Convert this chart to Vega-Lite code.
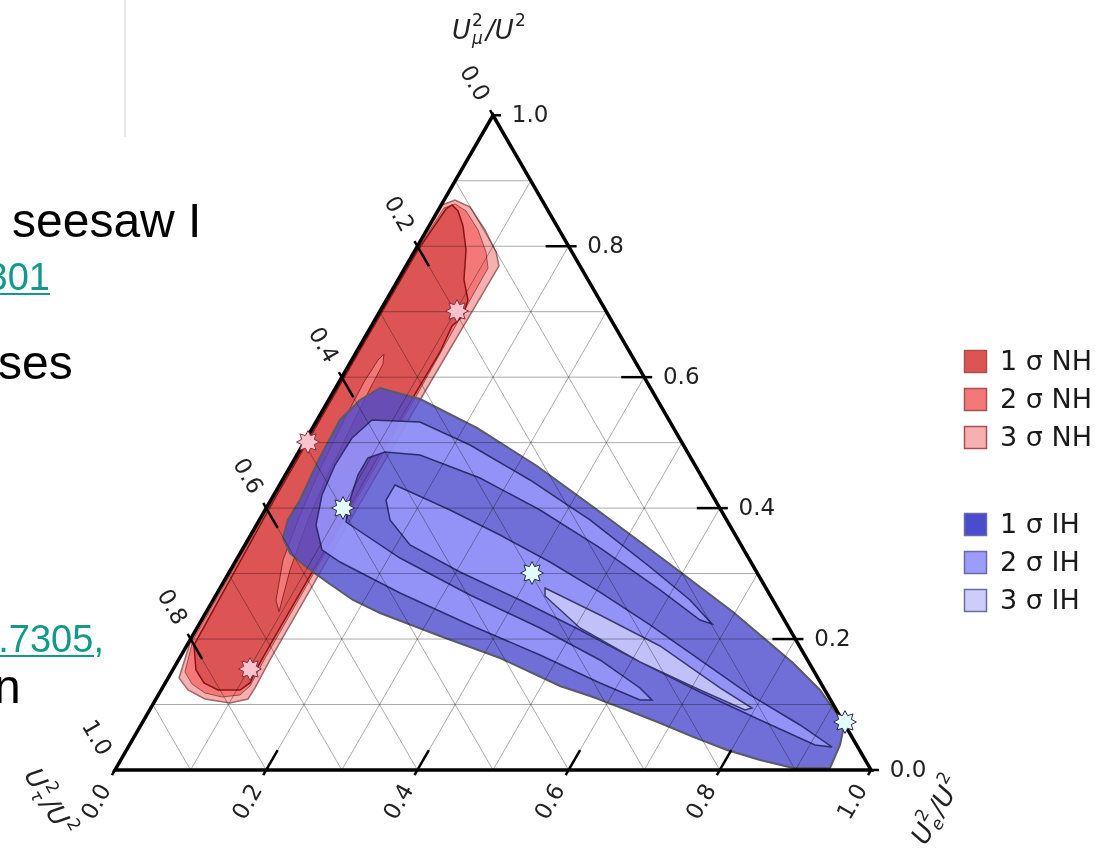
{
"$schema": "https://vega.github.io/schema/vega-lite/v6.json",
"width": 1109, "height": 848,
"autosize": {"type": "none"},
"padding": 0,
"background": "white",
"config": {"view": {"stroke": null}},
"datasets": {
"vline": [{"x": 0.0132, "y": 1.03, "y2": 0.8373}],
"slideBlack": [
 {"x": -0.1362, "y": 0.7050, "t": "seesaw I"},
 {"x": -0.1548, "y": 0.5172, "t": "ses"},
 {"x": -0.1601, "y": 0.0886, "t": "n"}
],
"slideTeal": [
 {"x": -0.0860, "y": 0.6349, "t": "301"},
 {"x": -0.0146, "y": 0.1561, "t": ".7305,"}
],
"uline": [
 {"x": -0.1521, "x2": -0.0860, "y": 0.6296},
 {"x": -0.1521, "x2": -0.0278, "y": 0.1508}
],
"poly": [
 {"p":"NH3","lv":"3 σ NH","i":1,"x":0.4325,"y":0.7474},
 {"p":"NH3","lv":"3 σ NH","i":2,"x":0.4497,"y":0.7540},
 {"p":"NH3","lv":"3 σ NH","i":3,"x":0.4696,"y":0.7447},
 {"p":"NH3","lv":"3 σ NH","i":4,"x":0.4894,"y":0.7143},
 {"p":"NH3","lv":"3 σ NH","i":5,"x":0.5040,"y":0.6852},
 {"p":"NH3","lv":"3 σ NH","i":6,"x":0.5079,"y":0.6667},
 {"p":"NH3","lv":"3 σ NH","i":7,"x":0.4034,"y":0.4894},
 {"p":"NH3","lv":"3 σ NH","i":8,"x":0.2884,"y":0.2910},
 {"p":"NH3","lv":"3 σ NH","i":9,"x":0.2050,"y":0.1455},
 {"p":"NH3","lv":"3 σ NH","i":10,"x":0.1852,"y":0.1085},
 {"p":"NH3","lv":"3 σ NH","i":11,"x":0.1759,"y":0.0939},
 {"p":"NH3","lv":"3 σ NH","i":12,"x":0.1521,"y":0.0886},
 {"p":"NH3","lv":"3 σ NH","i":13,"x":0.1190,"y":0.0939},
 {"p":"NH3","lv":"3 σ NH","i":14,"x":0.0966,"y":0.1058},
 {"p":"NH3","lv":"3 σ NH","i":15,"x":0.0847,"y":0.1217},
 {"p":"NH3","lv":"3 σ NH","i":16,"x":0.1005,"y":0.1720},
 {"p":"NH3","lv":"3 σ NH","i":17,"x":0.2077,"y":0.3571},
 {"p":"NH3","lv":"3 σ NH","i":18,"x":0.3214,"y":0.5556},
 {"p":"NH3","lv":"3 σ NH","i":19,"x":0.3981,"y":0.6878},

 {"p":"NH2","lv":"2 σ NH","i":1,"x":0.4352,"y":0.7434},
 {"p":"NH2","lv":"2 σ NH","i":2,"x":0.4497,"y":0.7487},
 {"p":"NH2","lv":"2 σ NH","i":3,"x":0.4643,"y":0.7394},
 {"p":"NH2","lv":"2 σ NH","i":4,"x":0.4802,"y":0.7143},
 {"p":"NH2","lv":"2 σ NH","i":5,"x":0.4907,"y":0.6852},
 {"p":"NH2","lv":"2 σ NH","i":6,"x":0.4934,"y":0.6640},
 {"p":"NH2","lv":"2 σ NH","i":7,"x":0.3955,"y":0.4894},
 {"p":"NH2","lv":"2 σ NH","i":8,"x":0.2804,"y":0.2910},
 {"p":"NH2","lv":"2 σ NH","i":9,"x":0.1971,"y":0.1455},
 {"p":"NH2","lv":"2 σ NH","i":10,"x":0.1786,"y":0.1111},
 {"p":"NH2","lv":"2 σ NH","i":11,"x":0.1653,"y":0.0992},
 {"p":"NH2","lv":"2 σ NH","i":12,"x":0.1415,"y":0.0966},
 {"p":"NH2","lv":"2 σ NH","i":13,"x":0.1190,"y":0.1019},
 {"p":"NH2","lv":"2 σ NH","i":14,"x":0.1019,"y":0.1138},
 {"p":"NH2","lv":"2 σ NH","i":15,"x":0.0926,"y":0.1296},
 {"p":"NH2","lv":"2 σ NH","i":16,"x":0.1032,"y":0.1720},
 {"p":"NH2","lv":"2 σ NH","i":17,"x":0.2090,"y":0.3571},
 {"p":"NH2","lv":"2 σ NH","i":18,"x":0.3228,"y":0.5556},
 {"p":"NH2","lv":"2 σ NH","i":19,"x":0.3995,"y":0.6878},

 {"p":"NH1","lv":"1 σ NH","i":1,"x":0.4378,"y":0.7421},
 {"p":"NH1","lv":"1 σ NH","i":2,"x":0.4458,"y":0.7474},
 {"p":"NH1","lv":"1 σ NH","i":3,"x":0.4537,"y":0.7394},
 {"p":"NH1","lv":"1 σ NH","i":4,"x":0.4603,"y":0.7196},
 {"p":"NH1","lv":"1 σ NH","i":5,"x":0.4643,"y":0.6878},
 {"p":"NH1","lv":"1 σ NH","i":6,"x":0.4616,"y":0.6481},
 {"p":"NH1","lv":"1 σ NH","i":7,"x":0.4669,"y":0.6217},
 {"p":"NH1","lv":"1 σ NH","i":8,"x":0.4603,"y":0.6005},
 {"p":"NH1","lv":"1 σ NH","i":9,"x":0.4458,"y":0.5873},
 {"p":"NH1","lv":"1 σ NH","i":10,"x":0.4299,"y":0.5529},
 {"p":"NH1","lv":"1 σ NH","i":11,"x":0.3532,"y":0.4233},
 {"p":"NH1","lv":"1 σ NH","i":12,"x":0.2778,"y":0.2910},
 {"p":"NH1","lv":"1 σ NH","i":13,"x":0.2090,"y":0.1720},
 {"p":"NH1","lv":"1 σ NH","i":14,"x":0.1865,"y":0.1323},
 {"p":"NH1","lv":"1 σ NH","i":15,"x":0.1786,"y":0.1151},
 {"p":"NH1","lv":"1 σ NH","i":16,"x":0.1653,"y":0.1058},
 {"p":"NH1","lv":"1 σ NH","i":17,"x":0.1362,"y":0.1058},
 {"p":"NH1","lv":"1 σ NH","i":18,"x":0.1177,"y":0.1151},
 {"p":"NH1","lv":"1 σ NH","i":19,"x":0.1071,"y":0.1323},
 {"p":"NH1","lv":"1 σ NH","i":20,"x":0.1045,"y":0.1653},
 {"p":"NH1","lv":"1 σ NH","i":21,"x":0.2103,"y":0.3571},
 {"p":"NH1","lv":"1 σ NH","i":22,"x":0.3241,"y":0.5556},
 {"p":"NH1","lv":"1 σ NH","i":23,"x":0.4008,"y":0.6878},

 {"p":"NHS","lv":"2 σ NH","i":1,"x":0.3558,"y":0.5503},
 {"p":"NHS","lv":"2 σ NH","i":2,"x":0.3545,"y":0.5370},
 {"p":"NHS","lv":"2 σ NH","i":3,"x":0.3399,"y":0.5093},
 {"p":"NHS","lv":"2 σ NH","i":4,"x":0.3135,"y":0.4563},
 {"p":"NHS","lv":"2 σ NH","i":5,"x":0.2844,"y":0.3968},
 {"p":"NHS","lv":"2 σ NH","i":6,"x":0.2553,"y":0.3307},
 {"p":"NHS","lv":"2 σ NH","i":7,"x":0.2315,"y":0.2646},
 {"p":"NHS","lv":"2 σ NH","i":8,"x":0.2169,"y":0.2090},
 {"p":"NHS","lv":"2 σ NH","i":9,"x":0.2130,"y":0.2249},
 {"p":"NHS","lv":"2 σ NH","i":10,"x":0.2222,"y":0.2778},
 {"p":"NHS","lv":"2 σ NH","i":11,"x":0.2447,"y":0.3373},
 {"p":"NHS","lv":"2 σ NH","i":12,"x":0.2738,"y":0.4034},
 {"p":"NHS","lv":"2 σ NH","i":13,"x":0.3029,"y":0.4630},
 {"p":"NHS","lv":"2 σ NH","i":14,"x":0.3294,"y":0.5132},
 {"p":"NHS","lv":"2 σ NH","i":15,"x":0.3479,"y":0.5423},

 {"p":"IHA","lv":"1 σ IH","i":1,"x":0.3241,"y":0.4894},
 {"p":"IHA","lv":"1 σ IH","i":2,"x":0.3505,"y":0.5053},
 {"p":"IHA","lv":"1 σ IH","i":3,"x":0.4034,"y":0.4907},
 {"p":"IHA","lv":"1 σ IH","i":4,"x":0.4788,"y":0.4524},
 {"p":"IHA","lv":"1 σ IH","i":5,"x":0.5582,"y":0.4021},
 {"p":"IHA","lv":"1 σ IH","i":6,"x":0.6415,"y":0.3413},
 {"p":"IHA","lv":"1 σ IH","i":7,"x":0.7302,"y":0.2751},
 {"p":"IHA","lv":"1 σ IH","i":8,"x":0.8175,"y":0.2090},
 {"p":"IHA","lv":"1 σ IH","i":9,"x":0.8968,"y":0.1415},
 {"p":"IHA","lv":"1 σ IH","i":10,"x":0.9325,"y":0.1058},
 {"p":"IHA","lv":"1 σ IH","i":11,"x":0.9500,"y":0.0807},
 {"p":"IHA","lv":"1 σ IH","i":12,"x":0.9650,"y":0.0608},
 {"p":"IHA","lv":"1 σ IH","i":13,"x":0.9590,"y":0.0331},
 {"p":"IHA","lv":"1 σ IH","i":14,"x":0.9458,"y":0.0026},
 {"p":"IHA","lv":"1 σ IH","i":15,"x":0.8968,"y":0.0026},
 {"p":"IHA","lv":"1 σ IH","i":16,"x":0.8532,"y":0.0132},
 {"p":"IHA","lv":"1 σ IH","i":17,"x":0.8095,"y":0.0265},
 {"p":"IHA","lv":"1 σ IH","i":18,"x":0.7646,"y":0.0437},
 {"p":"IHA","lv":"1 σ IH","i":19,"x":0.7209,"y":0.0622},
 {"p":"IHA","lv":"1 σ IH","i":20,"x":0.6772,"y":0.0794},
 {"p":"IHA","lv":"1 σ IH","i":21,"x":0.6323,"y":0.0966},
 {"p":"IHA","lv":"1 σ IH","i":22,"x":0.5886,"y":0.1111},
 {"p":"IHA","lv":"1 σ IH","i":23,"x":0.5093,"y":0.1481},
 {"p":"IHA","lv":"1 σ IH","i":24,"x":0.4299,"y":0.1772},
 {"p":"IHA","lv":"1 σ IH","i":25,"x":0.3505,"y":0.2077},
 {"p":"IHA","lv":"1 σ IH","i":26,"x":0.3148,"y":0.2249},
 {"p":"IHA","lv":"1 σ IH","i":27,"x":0.2804,"y":0.2487},
 {"p":"IHA","lv":"1 σ IH","i":28,"x":0.2513,"y":0.2698},
 {"p":"IHA","lv":"1 σ IH","i":29,"x":0.2315,"y":0.2870},
 {"p":"IHA","lv":"1 σ IH","i":30,"x":0.2222,"y":0.3069},
 {"p":"IHA","lv":"1 σ IH","i":31,"x":0.2288,"y":0.3307},
 {"p":"IHA","lv":"1 σ IH","i":32,"x":0.2447,"y":0.3571},
 {"p":"IHA","lv":"1 σ IH","i":33,"x":0.2712,"y":0.4140},
 {"p":"IHA","lv":"1 σ IH","i":34,"x":0.2976,"y":0.4630},

 {"p":"IHB","lv":"2 σ IH","i":1,"x":0.3399,"y":0.4630},
 {"p":"IHB","lv":"2 σ IH","i":2,"x":0.4034,"y":0.4603},
 {"p":"IHB","lv":"2 σ IH","i":3,"x":0.4696,"y":0.4299},
 {"p":"IHB","lv":"2 σ IH","i":4,"x":0.5489,"y":0.3836},
 {"p":"IHB","lv":"2 σ IH","i":5,"x":0.6283,"y":0.3307},
 {"p":"IHB","lv":"2 σ IH","i":6,"x":0.7077,"y":0.2685},
 {"p":"IHB","lv":"2 σ IH","i":7,"x":0.7606,"y":0.2249},
 {"p":"IHB","lv":"2 σ IH","i":8,"x":0.7897,"y":0.1931},
 {"p":"IHB","lv":"2 σ IH","i":9,"x":0.7738,"y":0.1984},
 {"p":"IHB","lv":"2 σ IH","i":10,"x":0.7209,"y":0.2381},
 {"p":"IHB","lv":"2 σ IH","i":11,"x":0.6415,"y":0.2937},
 {"p":"IHB","lv":"2 σ IH","i":12,"x":0.5622,"y":0.3439},
 {"p":"IHB","lv":"2 σ IH","i":13,"x":0.4828,"y":0.3862},
 {"p":"IHB","lv":"2 σ IH","i":14,"x":0.4034,"y":0.4167},
 {"p":"IHB","lv":"2 σ IH","i":15,"x":0.3571,"y":0.4206},
 {"p":"IHB","lv":"2 σ IH","i":16,"x":0.3347,"y":0.4127},
 {"p":"IHB","lv":"2 σ IH","i":17,"x":0.3214,"y":0.3902},
 {"p":"IHB","lv":"2 σ IH","i":18,"x":0.3108,"y":0.3571},
 {"p":"IHB","lv":"2 σ IH","i":19,"x":0.3056,"y":0.3280},
 {"p":"IHB","lv":"2 σ IH","i":20,"x":0.3770,"y":0.2804},
 {"p":"IHB","lv":"2 σ IH","i":21,"x":0.4696,"y":0.2315},
 {"p":"IHB","lv":"2 σ IH","i":22,"x":0.5622,"y":0.1878},
 {"p":"IHB","lv":"2 σ IH","i":23,"x":0.6415,"y":0.1455},
 {"p":"IHB","lv":"2 σ IH","i":24,"x":0.6944,"y":0.1085},
 {"p":"IHB","lv":"2 σ IH","i":25,"x":0.7103,"y":0.0926},
 {"p":"IHB","lv":"2 σ IH","i":26,"x":0.6944,"y":0.0926},
 {"p":"IHB","lv":"2 σ IH","i":27,"x":0.6415,"y":0.1151},
 {"p":"IHB","lv":"2 σ IH","i":28,"x":0.5622,"y":0.1521},
 {"p":"IHB","lv":"2 σ IH","i":29,"x":0.4696,"y":0.1918},
 {"p":"IHB","lv":"2 σ IH","i":30,"x":0.3770,"y":0.2341},
 {"p":"IHB","lv":"2 σ IH","i":31,"x":0.2976,"y":0.2751},
 {"p":"IHB","lv":"2 σ IH","i":32,"x":0.2738,"y":0.2910},
 {"p":"IHB","lv":"2 σ IH","i":33,"x":0.2659,"y":0.3241},
 {"p":"IHB","lv":"2 σ IH","i":34,"x":0.2738,"y":0.3638},
 {"p":"IHB","lv":"2 σ IH","i":35,"x":0.2910,"y":0.4034},
 {"p":"IHB","lv":"2 σ IH","i":36,"x":0.3135,"y":0.4392},

 {"p":"IHD","lv":"2 σ IH","i":1,"x":0.3585,"y":0.3571},
 {"p":"IHD","lv":"2 σ IH","i":2,"x":0.3704,"y":0.3770},
 {"p":"IHD","lv":"2 σ IH","i":3,"x":0.4431,"y":0.3439},
 {"p":"IHD","lv":"2 σ IH","i":4,"x":0.5093,"y":0.3108},
 {"p":"IHD","lv":"2 σ IH","i":5,"x":0.5754,"y":0.2751},
 {"p":"IHD","lv":"2 σ IH","i":6,"x":0.6415,"y":0.2354},
 {"p":"IHD","lv":"2 σ IH","i":7,"x":0.7077,"y":0.1918},
 {"p":"IHD","lv":"2 σ IH","i":8,"x":0.7738,"y":0.1455},
 {"p":"IHD","lv":"2 σ IH","i":9,"x":0.8399,"y":0.0992},
 {"p":"IHD","lv":"2 σ IH","i":10,"x":0.9061,"y":0.0595},
 {"p":"IHD","lv":"2 σ IH","i":11,"x":0.9484,"y":0.0304},
 {"p":"IHD","lv":"2 σ IH","i":12,"x":0.9259,"y":0.0331},
 {"p":"IHD","lv":"2 σ IH","i":13,"x":0.8532,"y":0.0661},
 {"p":"IHD","lv":"2 σ IH","i":14,"x":0.7738,"y":0.1032},
 {"p":"IHD","lv":"2 σ IH","i":15,"x":0.6944,"y":0.1429},
 {"p":"IHD","lv":"2 σ IH","i":16,"x":0.6151,"y":0.1852},
 {"p":"IHD","lv":"2 σ IH","i":17,"x":0.5357,"y":0.2249},
 {"p":"IHD","lv":"2 σ IH","i":18,"x":0.4563,"y":0.2619},
 {"p":"IHD","lv":"2 σ IH","i":19,"x":0.3902,"y":0.2976},
 {"p":"IHD","lv":"2 σ IH","i":20,"x":0.3638,"y":0.3307},

 {"p":"IHE","lv":"3 σ IH","i":1,"x":0.5688,"y":0.2407},
 {"p":"IHE","lv":"3 σ IH","i":2,"x":0.6415,"y":0.2050},
 {"p":"IHE","lv":"3 σ IH","i":3,"x":0.7209,"y":0.1640},
 {"p":"IHE","lv":"3 σ IH","i":4,"x":0.8003,"y":0.1085},
 {"p":"IHE","lv":"3 σ IH","i":5,"x":0.8426,"y":0.0820},
 {"p":"IHE","lv":"3 σ IH","i":6,"x":0.8333,"y":0.0794},
 {"p":"IHE","lv":"3 σ IH","i":7,"x":0.7738,"y":0.1058},
 {"p":"IHE","lv":"3 σ IH","i":8,"x":0.6944,"y":0.1429},
 {"p":"IHE","lv":"3 σ IH","i":9,"x":0.6151,"y":0.1878},
 {"p":"IHE","lv":"3 σ IH","i":10,"x":0.5688,"y":0.2302}
],
"grid": [
 {"x":0.05,"y":0.0866,"x2":0.95,"y2":0.0866},
 {"x":0.1,"y":0.1732,"x2":0.9,"y2":0.1732},
 {"x":0.15,"y":0.2598,"x2":0.85,"y2":0.2598},
 {"x":0.2,"y":0.3464,"x2":0.8,"y2":0.3464},
 {"x":0.25,"y":0.433,"x2":0.75,"y2":0.433},
 {"x":0.3,"y":0.5196,"x2":0.7,"y2":0.5196},
 {"x":0.35,"y":0.6062,"x2":0.65,"y2":0.6062},
 {"x":0.4,"y":0.6928,"x2":0.6,"y2":0.6928},
 {"x":0.45,"y":0.7794,"x2":0.55,"y2":0.7794},
 {"x":0.1,"y":0,"x2":0.55,"y2":0.7794},
 {"x":0.2,"y":0,"x2":0.6,"y2":0.6928},
 {"x":0.3,"y":0,"x2":0.65,"y2":0.6062},
 {"x":0.4,"y":0,"x2":0.7,"y2":0.5196},
 {"x":0.5,"y":0,"x2":0.75,"y2":0.433},
 {"x":0.6,"y":0,"x2":0.8,"y2":0.3464},
 {"x":0.7,"y":0,"x2":0.85,"y2":0.2598},
 {"x":0.8,"y":0,"x2":0.9,"y2":0.1732},
 {"x":0.9,"y":0,"x2":0.95,"y2":0.0866},
 {"x":0.9,"y":0,"x2":0.45,"y2":0.7794},
 {"x":0.8,"y":0,"x2":0.4,"y2":0.6928},
 {"x":0.7,"y":0,"x2":0.35,"y2":0.6062},
 {"x":0.6,"y":0,"x2":0.3,"y2":0.5196},
 {"x":0.5,"y":0,"x2":0.25,"y2":0.433},
 {"x":0.4,"y":0,"x2":0.2,"y2":0.3464},
 {"x":0.3,"y":0,"x2":0.15,"y2":0.2598},
 {"x":0.2,"y":0,"x2":0.1,"y2":0.1732},
 {"x":0.1,"y":0,"x2":0.05,"y2":0.0866}
],
"tri": [
 {"i":1,"x":0,"y":0},
 {"i":2,"x":1,"y":0},
 {"i":3,"x":0.5,"y":0.866}
],
"ticks": [
 {"x":0.3961,"y":0.6996,"x2":0.4152,"y2":0.6665},
 {"x":0.2961,"y":0.5264,"x2":0.3152,"y2":0.4933},
 {"x":0.1961,"y":0.3532,"x2":0.2152,"y2":0.3201},
 {"x":0.0961,"y":0.1800,"x2":0.1152,"y2":0.1469},
 {"x":0.5,"y":0.866,"x2":0.4961,"y2":0.8728},
 {"x":0.1961,"y":-0.0068,"x2":0.2152,"y2":0.0263},
 {"x":0.3961,"y":-0.0068,"x2":0.4152,"y2":0.0263},
 {"x":0.5961,"y":-0.0068,"x2":0.6152,"y2":0.0263},
 {"x":0.7961,"y":-0.0068,"x2":0.8152,"y2":0.0263},
 {"x":0,"y":0,"x2":-0.0040,"y2":-0.0068},
 {"x":1,"y":0,"x2":0.9961,"y2":-0.0068},
 {"x":0.9106,"y":0.1732,"x2":0.8696,"y2":0.1732},
 {"x":0.8106,"y":0.3464,"x2":0.7696,"y2":0.3464},
 {"x":0.7106,"y":0.5196,"x2":0.6696,"y2":0.5196},
 {"x":0.6106,"y":0.6928,"x2":0.5696,"y2":0.6928},
 {"x":1,"y":0,"x2":1.0106,"y2":0},
 {"x":0.5,"y":0.866,"x2":0.5106,"y2":0.866}
],
"ticklab": [
 {"x":0.4755,"y":0.9084,"t":"0.0","a":60},
 {"x":0.3755,"y":0.7352,"t":"0.2","a":60},
 {"x":0.2755,"y":0.5620,"t":"0.4","a":60},
 {"x":0.1755,"y":0.3888,"t":"0.6","a":60},
 {"x":0.0755,"y":0.2156,"t":"0.8","a":60},
 {"x":-0.0245,"y":0.0424,"t":"1.0","a":60},
 {"x":-0.0245,"y":-0.0424,"t":"0.0","a":-60},
 {"x":0.1755,"y":-0.0424,"t":"0.2","a":-60},
 {"x":0.3755,"y":-0.0424,"t":"0.4","a":-60},
 {"x":0.5755,"y":-0.0424,"t":"0.6","a":-60},
 {"x":0.7755,"y":-0.0424,"t":"0.8","a":-60},
 {"x":0.9755,"y":-0.0424,"t":"1.0","a":-60},
 {"x":1.049,"y":0,"t":"0.0","a":0},
 {"x":0.949,"y":0.1732,"t":"0.2","a":0},
 {"x":0.849,"y":0.3464,"t":"0.4","a":0},
 {"x":0.749,"y":0.5196,"t":"0.6","a":0},
 {"x":0.649,"y":0.6928,"t":"0.8","a":0},
 {"x":0.549,"y":0.866,"t":"1.0","a":0}
],
"ttl": [
 {"x":0.4907,"y":0.9775,"a":0,"sub":"μ"},
 {"x":-0.0893,"y":-0.0399,"a":60,"sub":"τ"},
 {"x":1.0853,"y":-0.0566,"a":-60,"sub":"e"}
],
"starsNH": [
 {"x":0.4524,"y":0.6071},
 {"x":0.2553,"y":0.4339},
 {"x":0.1786,"y":0.1336}
],
"starsIH": [
 {"x":0.3016,"y":0.3466},
 {"x":0.5516,"y":0.2606},
 {"x":0.9656,"y":0.0635}
]
},
"encoding": {
 "x": {"field": "x", "type": "quantitative", "scale": {"domain": [-0.1521, 1.3148], "nice": false, "zero": false}, "axis": null},
 "y": {"field": "y", "type": "quantitative", "scale": {"domain": [-0.1032, 1.0185], "nice": false, "zero": false}, "axis": null}
},
"layer": [
 {"data": {"name": "vline"}, "mark": {"type": "rule", "stroke": "#d0d0d0", "strokeWidth": 1}, "encoding": {"y2": {"field": "y2"}}},
 {"data": {"name": "slideBlack"}, "mark": {"type": "text", "align": "left", "baseline": "alphabetic", "font": "Liberation Sans", "fontSize": 48, "fill": "#000000"}, "encoding": {"text": {"field": "t"}}},
 {"data": {"name": "slideTeal"}, "mark": {"type": "text", "align": "right", "baseline": "alphabetic", "font": "Liberation Sans", "fontSize": 38, "fill": "#12998a"}, "encoding": {"text": {"field": "t"}}},
 {"data": {"name": "uline"}, "mark": {"type": "rule", "stroke": "#12998a", "strokeWidth": 2}, "encoding": {"x2": {"field": "x2"}}},
 {"layer": [
   {"data": {"name": "poly"}, "transform": [{"filter": "datum.p === 'NH3'"}],
    "mark": {"type": "line", "filled": true, "interpolate": "linear-closed", "stroke": "#a06868", "strokeWidth": 1.5},
    "encoding": {"order": {"field": "i", "type": "quantitative"},
      "color": {"field": "lv", "type": "nominal", "scale": {"domain": ["1 σ NH", "2 σ NH", "3 σ NH"], "range": ["#dc5454", "#f47878", "#f7b0b0"]},
        "legend": {"title": null, "orient": "none", "legendX": 962, "legendY": 348, "symbolType": "square", "symbolSize": 484, "symbolStrokeColor": "#a85050", "symbolStrokeWidth": 1.5, "symbolOpacity": 1, "labelFont": "DejaVu Sans", "labelFontSize": 27, "labelColor": "#1a1a1a", "labelOffset": 11, "rowPadding": 9, "padding": 0}}}},
   {"data": {"name": "poly"}, "transform": [{"filter": "datum.p === 'NH2'"}],
    "mark": {"type": "line", "filled": true, "interpolate": "linear-closed", "stroke": "#a04a4a", "strokeWidth": 1},
    "encoding": {"order": {"field": "i", "type": "quantitative"},
      "color": {"field": "lv", "type": "nominal", "scale": {"domain": ["1 σ NH", "2 σ NH", "3 σ NH"], "range": ["#dc5454", "#f47878", "#f7b0b0"]},
        "legend": {"title": null, "orient": "none", "legendX": 962, "legendY": 348, "symbolType": "square", "symbolSize": 484, "symbolStrokeColor": "#a85050", "symbolStrokeWidth": 1.5, "symbolOpacity": 1, "labelFont": "DejaVu Sans", "labelFontSize": 27, "labelColor": "#1a1a1a", "labelOffset": 11, "rowPadding": 9, "padding": 0}}}},
   {"data": {"name": "poly"}, "transform": [{"filter": "datum.p === 'NH1'"}],
    "mark": {"type": "line", "filled": true, "interpolate": "linear-closed", "stroke": "#8a1414", "strokeWidth": 1.5},
    "encoding": {"order": {"field": "i", "type": "quantitative"},
      "color": {"field": "lv", "type": "nominal", "scale": {"domain": ["1 σ NH", "2 σ NH", "3 σ NH"], "range": ["#dc5454", "#f47878", "#f7b0b0"]},
        "legend": {"title": null, "orient": "none", "legendX": 962, "legendY": 348, "symbolType": "square", "symbolSize": 484, "symbolStrokeColor": "#a85050", "symbolStrokeWidth": 1.5, "symbolOpacity": 1, "labelFont": "DejaVu Sans", "labelFontSize": 27, "labelColor": "#1a1a1a", "labelOffset": 11, "rowPadding": 9, "padding": 0}}}},
   {"data": {"name": "poly"}, "transform": [{"filter": "datum.p === 'NHS'"}],
    "mark": {"type": "line", "filled": true, "interpolate": "linear-closed", "stroke": "#8a2a2a", "strokeWidth": 1},
    "encoding": {"order": {"field": "i", "type": "quantitative"},
      "color": {"field": "lv", "type": "nominal", "scale": {"domain": ["1 σ NH", "2 σ NH", "3 σ NH"], "range": ["#dc5454", "#f47878", "#f7b0b0"]},
        "legend": {"title": null, "orient": "none", "legendX": 962, "legendY": 348, "symbolType": "square", "symbolSize": 484, "symbolStrokeColor": "#a85050", "symbolStrokeWidth": 1.5, "symbolOpacity": 1, "labelFont": "DejaVu Sans", "labelFontSize": 27, "labelColor": "#1a1a1a", "labelOffset": 11, "rowPadding": 9, "padding": 0}}}}
 ]},
 {"layer": [
   {"data": {"name": "poly"}, "transform": [{"filter": "datum.p === 'IHA'"}],
    "mark": {"type": "line", "filled": true, "interpolate": "linear-closed", "fillOpacity": 0.8, "stroke": "#5a5a68", "strokeWidth": 2},
    "encoding": {"order": {"field": "i", "type": "quantitative"},
      "color": {"field": "lv", "type": "nominal", "scale": {"domain": ["1 σ IH", "2 σ IH", "3 σ IH"], "range": ["#4b4bcd", "#9c9cff", "#cdcdfa"]},
        "legend": {"title": null, "orient": "none", "legendX": 962, "legendY": 511, "symbolType": "square", "symbolSize": 484, "symbolStrokeColor": "#6a6aa8", "symbolStrokeWidth": 1.5, "symbolOpacity": 1, "labelFont": "DejaVu Sans", "labelFontSize": 27, "labelColor": "#1a1a1a", "labelOffset": 11, "rowPadding": 9, "padding": 0}}}},
   {"data": {"name": "poly"}, "transform": [{"filter": "datum.p === 'IHB'"}],
    "mark": {"type": "line", "filled": true, "interpolate": "linear-closed", "fillOpacity": 0.8, "stroke": "#2c2c70", "strokeWidth": 1.5},
    "encoding": {"order": {"field": "i", "type": "quantitative"},
      "color": {"field": "lv", "type": "nominal", "scale": {"domain": ["1 σ IH", "2 σ IH", "3 σ IH"], "range": ["#4b4bcd", "#9c9cff", "#cdcdfa"]},
        "legend": {"title": null, "orient": "none", "legendX": 962, "legendY": 511, "symbolType": "square", "symbolSize": 484, "symbolStrokeColor": "#6a6aa8", "symbolStrokeWidth": 1.5, "symbolOpacity": 1, "labelFont": "DejaVu Sans", "labelFontSize": 27, "labelColor": "#1a1a1a", "labelOffset": 11, "rowPadding": 9, "padding": 0}}}},
   {"data": {"name": "poly"}, "transform": [{"filter": "datum.p === 'IHD'"}],
    "mark": {"type": "line", "filled": true, "interpolate": "linear-closed", "fillOpacity": 0.8, "stroke": "#2c2c70", "strokeWidth": 1.5},
    "encoding": {"order": {"field": "i", "type": "quantitative"},
      "color": {"field": "lv", "type": "nominal", "scale": {"domain": ["1 σ IH", "2 σ IH", "3 σ IH"], "range": ["#4b4bcd", "#9c9cff", "#cdcdfa"]},
        "legend": {"title": null, "orient": "none", "legendX": 962, "legendY": 511, "symbolType": "square", "symbolSize": 484, "symbolStrokeColor": "#6a6aa8", "symbolStrokeWidth": 1.5, "symbolOpacity": 1, "labelFont": "DejaVu Sans", "labelFontSize": 27, "labelColor": "#1a1a1a", "labelOffset": 11, "rowPadding": 9, "padding": 0}}}},
   {"data": {"name": "poly"}, "transform": [{"filter": "datum.p === 'IHE'"}],
    "mark": {"type": "line", "filled": true, "interpolate": "linear-closed", "fillOpacity": 0.8, "stroke": "#3a3a70", "strokeWidth": 1.5},
    "encoding": {"order": {"field": "i", "type": "quantitative"},
      "color": {"field": "lv", "type": "nominal", "scale": {"domain": ["1 σ IH", "2 σ IH", "3 σ IH"], "range": ["#4b4bcd", "#9c9cff", "#cdcdfa"]},
        "legend": {"title": null, "orient": "none", "legendX": 962, "legendY": 511, "symbolType": "square", "symbolSize": 484, "symbolStrokeColor": "#6a6aa8", "symbolStrokeWidth": 1.5, "symbolOpacity": 1, "labelFont": "DejaVu Sans", "labelFontSize": 27, "labelColor": "#1a1a1a", "labelOffset": 11, "rowPadding": 9, "padding": 0}}}}
 ]},
 {"data": {"name": "grid"}, "mark": {"type": "rule", "stroke": "#ababab", "strokeWidth": 1, "blend": "multiply"}, "encoding": {"x2": {"field": "x2"}, "y2": {"field": "y2"}}},
 {"data": {"name": "tri"}, "mark": {"type": "line", "interpolate": "linear-closed", "stroke": "#000000", "strokeWidth": 3.5, "strokeJoin": "miter"}, "encoding": {"order": {"field": "i", "type": "quantitative"}}},
 {"data": {"name": "ticks"}, "mark": {"type": "rule", "stroke": "#000000", "strokeWidth": 2.5}, "encoding": {"x2": {"field": "x2"}, "y2": {"field": "y2"}}},
 {"data": {"name": "starsNH"}, "mark": {"type": "point", "shape": "M1,0L0.554,0.23L0.707,0.707L0.23,0.554L0,1L-0.23,0.554L-0.707,0.707L-0.554,0.23L-1,0L-0.554,-0.23L-0.707,-0.707L-0.23,-0.554L0,-1L0.23,-0.554L0.707,-0.707L0.554,-0.23Z", "filled": true, "fill": "#f9c3ce", "stroke": "#8a3040", "strokeWidth": 1, "size": 520, "opacity": 1}},
 {"data": {"name": "starsIH"}, "mark": {"type": "point", "shape": "M1,0L0.554,0.23L0.707,0.707L0.23,0.554L0,1L-0.23,0.554L-0.707,0.707L-0.554,0.23L-1,0L-0.554,-0.23L-0.707,-0.707L-0.23,-0.554L0,-1L0.23,-0.554L0.707,-0.707L0.554,-0.23Z", "filled": true, "fill": "#e4fafa", "stroke": "#2a3050", "strokeWidth": 1, "size": 520, "opacity": 1}},
 {"data": {"name": "ticklab"}, "mark": {"type": "text", "align": "center", "baseline": "middle", "font": "DejaVu Sans", "fontSize": 23, "fill": "#222222"}, "encoding": {"text": {"field": "t"}, "angle": {"field": "a", "type": "quantitative", "scale": null}}},
 {"data": {"name": "ttl"}, "mark": {"type": "text", "text": "U", "align": "right", "baseline": "middle", "dx": -15, "font": "DejaVu Sans", "fontStyle": "italic", "fontSize": 26, "fill": "#222222"}, "encoding": {"angle": {"field": "a", "type": "quantitative", "scale": null}}},
 {"data": {"name": "ttl"}, "mark": {"type": "text", "text": "2", "align": "left", "baseline": "middle", "dx": -14, "dy": -10, "font": "DejaVu Sans", "fontSize": 17, "fill": "#222222"}, "encoding": {"angle": {"field": "a", "type": "quantitative", "scale": null}}},
 {"data": {"name": "ttl"}, "mark": {"type": "text", "align": "left", "baseline": "middle", "dx": -14, "dy": 8, "font": "DejaVu Sans", "fontStyle": "italic", "fontSize": 17, "fill": "#222222"}, "encoding": {"text": {"field": "sub"}, "angle": {"field": "a", "type": "quantitative", "scale": null}}},
 {"data": {"name": "ttl"}, "mark": {"type": "text", "text": "/U", "align": "left", "baseline": "middle", "dx": 0, "font": "DejaVu Sans", "fontStyle": "italic", "fontSize": 26, "fill": "#222222"}, "encoding": {"angle": {"field": "a", "type": "quantitative", "scale": null}}},
 {"data": {"name": "ttl"}, "mark": {"type": "text", "text": "2", "align": "left", "baseline": "middle", "dx": 29, "dy": -10, "font": "DejaVu Sans", "fontSize": 17, "fill": "#222222"}, "encoding": {"angle": {"field": "a", "type": "quantitative", "scale": null}}}
],
"resolve": {"scale": {"color": "independent"}}
}
